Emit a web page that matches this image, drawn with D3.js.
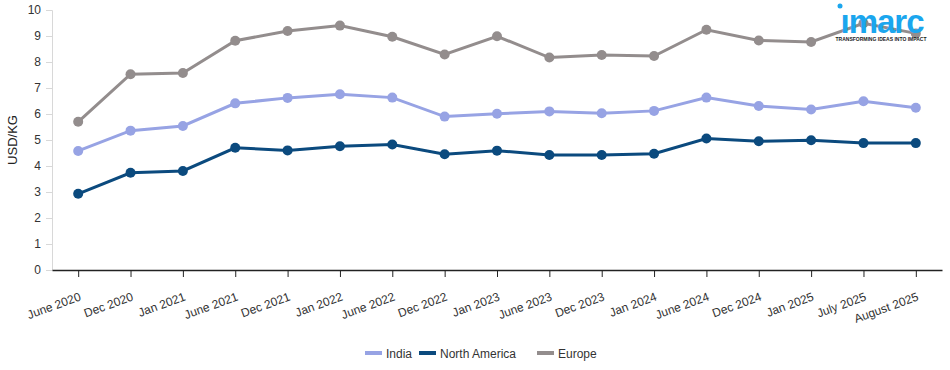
<!DOCTYPE html>
<html>
<head>
  <meta charset="utf-8">
  <title>Price trend</title>
  <script src="https://d3js.org/d3.v7.min.js"></script>
  <style>
    body { margin: 0; background: #fff; font-family: "Liberation Sans", Arial, sans-serif; }
    svg text { font-family: "Liberation Sans", Arial, sans-serif; }
  </style>
</head>
<body>
<svg id="chart" width="950" height="370"></svg>
<script>
  // data
  var categories = ['June 2020', 'Dec 2020', 'Jan 2021', 'June 2021', 'Dec 2021', 'Jan 2022', 'June 2022',
    'Dec 2022', 'Jan 2023', 'June 2023', 'Dec 2023', 'Jan 2024', 'June 2024', 'Dec 2024', 'Jan 2025',
    'July 2025', 'August 2025']
  var india = [4.58, 5.36, 5.54, 6.41, 6.62, 6.76, 6.63, 5.90, 6.01, 6.10, 6.03, 6.12, 6.63, 6.31, 6.17, 6.49, 6.24]
  var northAmerica = [2.93, 3.74, 3.81, 4.70, 4.60, 4.76, 4.83, 4.45, 4.59, 4.42, 4.42, 4.47, 5.06, 4.95, 4.99, 4.88, 4.88]
  var europe = [5.70, 7.53, 7.58, 8.82, 9.19, 9.40, 8.97, 8.29, 8.99, 8.17, 8.27, 8.23, 9.24, 8.83, 8.77, 9.49, 9.10]
  var yTicks = [0, 1, 2, 3, 4, 5, 6, 7, 8, 9, 10]

  var series = [
    { name: 'India', values: india, color: '#97a3e4' },
    { name: 'North America', values: northAmerica, color: '#0b4a7e' },
    { name: 'Europe', values: europe, color: '#938d8d' }
  ]

  var svg = d3.select('#chart')
  var margin = { top: 10, right: 8, bottom: 100, left: 52 }
  var w = 950 - margin.left - margin.right
  var h = 370 - margin.top - margin.bottom

  var xScale = d3.scalePoint().domain(categories).range([0, w]).padding(0.5)
  var yScale = d3.scaleLinear().domain([0, 10]).range([h, 0])

  var g = svg.append('g')
      .attr('transform', 'translate(' + margin.left + ',' + margin.top + ')')

  // Y-axis
  var yAxis = g.append('g')
      .call(d3.axisLeft(yScale).tickValues(yTicks).tickSize(6).tickPadding(5))
  yAxis.select('.domain').attr('stroke', '#d8d8d8')
  yAxis.selectAll('.tick line').attr('stroke', '#d8d8d8')
  yAxis.selectAll('.tick text').attr('fill', '#333').style('font-size', '12px')

  // X-axis
  var xAxis = g.append('g')
      .attr('transform', 'translate(0,' + h + ')')
      .call(d3.axisBottom(xScale).tickSize(7).tickSizeOuter(0))
  xAxis.select('.domain').attr('stroke', '#222').attr('stroke-width', 1.5)
  xAxis.selectAll('.tick line').attr('stroke', '#222')
  xAxis.selectAll('.tick text')
      .attr('fill', '#333')
      .style('font-size', '12px')
      .style('text-anchor', 'end')
      .attr('x', 0)
      .attr('y', 0)
      .attr('dy', 0)
      .attr('transform', 'translate(3,30) rotate(-20)')

  // axis label
  svg.append('text')
      .attr('transform', 'translate(17,' + (margin.top + h / 2) + ') rotate(-90)')
      .style('text-anchor', 'middle')
      .style('font-size', '13px')
      .attr('fill', '#222')
      .text('USD/KG')

  // lines and dots
  var line = d3.line()
      .x(function (d, i) { return xScale(categories[i]) })
      .y(function (d) { return yScale(d) })

  series.forEach(function (s) {
    g.append('path')
        .datum(s.values)
        .attr('fill', 'none')
        .attr('stroke', s.color)
        .attr('stroke-width', 3)
        .attr('d', line)
    g.selectAll(null)
        .data(s.values)
        .enter()
      .append('circle')
        .attr('cx', function (d, i) { return xScale(categories[i]) })
        .attr('cy', function (d) { return yScale(d) })
        .attr('r', 5)
        .attr('fill', s.color)
  })

  // legend
  var legendX = [365, 419, 537]
  var legend = svg.append('g')
  series.forEach(function (s, i) {
    legend.append('rect')
        .attr('x', legendX[i]).attr('y', 351)
        .attr('width', 17).attr('height', 4)
        .attr('fill', s.color)
    legend.append('text')
        .attr('x', legendX[i] + 21).attr('y', 357.5)
        .style('font-size', '12px')
        .attr('fill', '#333')
        .text(s.name)
  })

  // logo
  var logo = svg.append('g')
  logo.append('circle').attr('cx', 840).attr('cy', 6).attr('r', 2.5).attr('fill', '#1ba6ee')
  logo.append('text')
      .attr('x', 882).attr('y', 33)
      .style('text-anchor', 'middle')
      .style('font-size', '33px')
      .style('font-weight', 'bold')
      .style('letter-spacing', '-1px')
      .attr('fill', '#1ba6ee')
      .text('ımarc')
  logo.append('text')
      .attr('x', 881).attr('y', 41)
      .style('text-anchor', 'middle')
      .style('font-size', '5px')
      .style('font-weight', 'bold')
      .attr('fill', '#222')
      .text('TRANSFORMING IDEAS INTO IMPACT')
</script>
</body>
</html>
